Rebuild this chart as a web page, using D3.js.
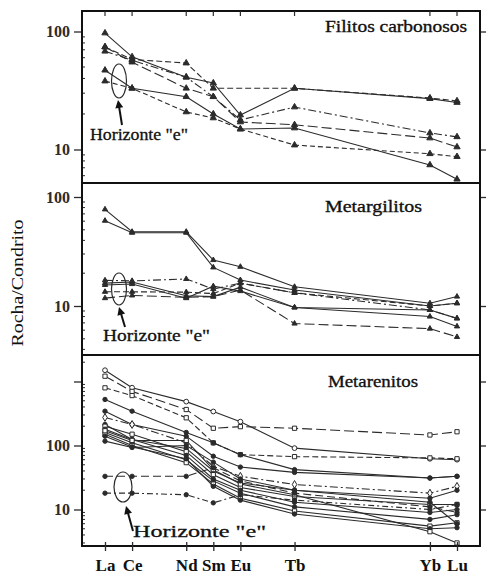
<!DOCTYPE html>
<html><head><meta charset="utf-8">
<script src="https://cdn.jsdelivr.net/npm/d3@7"></script>
<style>html,body{margin:0;padding:0;background:#fff;} svg{display:block;}</style>
</head><body>
<svg id="chart" width="489" height="574"></svg>
<script>
// ---------- DATA ----------
const elements = ["La","Ce","Nd","Sm","Eu","Tb","Yb","Lu"];
const elementSlots = [0,1,3,4,5,7,12,13];
const yTitle = "Rocha/Condrito";
const panelTitles = ["Filitos carbonosos","Metargilitos","Metarenitos"];
const horizonLabel = "Horizonte \"e\"";
const tickValuesP1 = [10,100];
const tickValuesP2 = [10,100];
const tickValuesP3 = [10,100,1000];
const tickLabels = {10:"10",100:"100"};

// Filitos carbonosos (La..Lu), null = not analysed
const filitos = [
  [97, 61, 41, 36.6, 19.6, 33, 27, 25],
  [74, 58, 54, 33, null, 33, 27.3, 25.8],
  [68, 57, 41, 28, 17.8, 22.9, 13.8, 12.8],
  [74, 55, 33, 28, 17.1, 16.2, 12.5, 10.5],
  [47, 33, 28, 20, 14.9, 15.2, 7.4, 5.6],
  [38, 33, 20.8, 18.5, 14.9, 10.9, 9.2, 8.7]
];
// Metargilitos
const metargilitos = [
  [77, 48, 48, 26.4, 22.9, 15, 10.6, 12.2],
  [60.6, 47, 47, 22.6, 17.3, 14, 10, 10.6],
  [17.2, 17, 17.7, 14.3, 16.2, 13.2, 9.2, 7.7],
  [16.2, 16.6, 12.4, 12.2, 14.9, 9.7, 8, 6.5],
  [15.6, 15.9, 11.8, 15.2, 13.7, 9.7, 9.2, 7.7],
  [13.5, 13.5, 13.4, 13, 16.2, 13.2, 10, 10.6],
  [11.8, 12.5, 12, 12.2, 14, 6.9, 6.2, 5.2]
];
// Metarenitos
const metarenitos = [
  [1500, 800, 485, 340, 236, 91, 62, 60],
  [1210, 700, 365, 186, 197, 186, 146, 164],
  [796, 603, 271, 110, 72, 67, 64, 62],
  [524, 344, 160, 110, 72, 42, 31, 33],
  [344, 213, 140, 68, 46, 38, 31, 33],
  [274, 213, 110, 47, 33, 24.6, 18, 23],
  [213, 124, 90, 40, 26, 20, 15, 20],
  [200, 150, 80, 35, 22, 16, 12, 12],
  [180, 124, 70, 30, 20, 13, 9, 10],
  [160, 110, 60, 28, 18, 11, 7, 8.3],
  [150, 100, 54, 25, 15, 9.5, 5.5, 6.2],
  [140, 95, 62, 23, 14, 8.5, 5, 5.2],
  [117, 93, 100, 55, 30, 20, 13, 6],
  [170, 120, 120, 42, 25, 17, 4.5, 3.0],
  [33, 33, 33, 45, 28, 18, 11, 9],
  [18, 18, 17, 12.7, 17, 14, 10, 12]
];

// ---------- STYLES ----------
const filitosDash = ["", "6,3", "8,3,2,3", "10,4", "", "5,3"];
const metargDash = ["", "", "8,3,2,3", "", "", "6,3", "10,4"];
const metarenDash = ["", "10,4", "6,3", "", "", "8,3,2,3", "", "", "", "", "", "", "", "", "8,4", "6,3,2,3"];
const metarenMarker = ["circleOpen","square","square","circle","circle","diamond","circle","square","circle","circle","square","circle","circle","square","circle","circle"];

const ink = "#2b2b2b";
const serif = "'Liberation Serif','DejaVu Serif',serif";

const svg = d3.select("#chart");
const frameL = 82, frameR = 480;
const x = d3.scaleLinear().domain([0,13]).range([105,457]);

const panels = [
  {data: filitos, dash: filitosDash, marker: () => "triangle", msize: 17,
   top: 11, bottom: 183, y10: 149.5, y100: 31.5, ticks: tickValuesP1,
   title: panelTitles[0], tx: 325, ty: 32, tlen: 142,
   ell: {cx:119, cy:81, rx:7.5, ry:17}, lab: {x:90, y:140, len:98, fs:16},
   arrow: {x1:122, y1:125, x2:118, y2:100}},
  {data: metargilitos, dash: metargDash, marker: () => "triangle", msize: 12,
   top: 183, bottom: 355, y10: 306, y100: 197, ticks: tickValuesP2,
   title: panelTitles[1], tx: 325, ty: 212, tlen: 97,
   ell: {cx:119, cy:289, rx:7.5, ry:16}, lab: {x:103, y:341, len:107, fs:16},
   arrow: {x1:125, y1:327, x2:119, y2:307}},
  {data: metarenitos, dash: metarenDash, marker: i => metarenMarker[i], msize: 15,
   top: 355, bottom: 546, y10: 509.5, y100: 445.5, ticks: tickValuesP3,
   title: panelTitles[2], tx: 328, ty: 387, tlen: 90,
   ell: {cx:123, cy:487, rx:9, ry:15}, lab: {x:133, y:537, len:133, fs:17},
   arrow: {x1:133, y1:531, x2:126, y2:506}}
];

const symbolFor = {
  triangle: d3.symbolTriangle, circle: d3.symbolCircle, circleOpen: d3.symbolCircle,
  square: d3.symbolSquare, diamond: d3.symbolDiamond
};

panels.forEach((p, pi) => {
  const base = d3.scaleLog().domain([10,100]).range([p.y10, p.y100]);
  const y = d3.scaleLog().domain([base.invert(p.bottom), base.invert(p.top)]).range([p.bottom, p.top]);
  const g = svg.append("g");

  // minor ticks
  const [d0, d1] = y.domain();
  const minors = [];
  for (let dec = 1; dec <= 1000; dec *= 10)
    for (let k = 2; k <= 9; k++) { const v = k*dec; if (v > d0 && v < d1) minors.push(v); }
  g.selectAll(".minor").data(minors).join("line")
    .attr("x1", frameL).attr("x2", frameL+3)
    .attr("y1", d => y(d)).attr("y2", d => y(d))
    .attr("stroke", ink).attr("stroke-width", 1);

  // left axis
  const left = d3.axisLeft(y).tickValues(p.ticks).tickSize(8).tickPadding(4)
    .tickFormat(d => tickLabels[d] || "");
  const la = g.append("g").attr("transform", `translate(${frameL},0)`).call(left);
  la.select(".domain").remove();
  la.selectAll("line").attr("stroke", ink).attr("stroke-width", 1.3);
  la.selectAll("text").attr("font-family", serif).attr("font-size", 16).attr("font-weight", "bold").attr("fill", ink);

  // right axis ticks
  const right = d3.axisRight(y).tickValues(p.ticks).tickSize(6).tickFormat("");
  const ra = g.append("g").attr("transform", `translate(${frameR},0)`).call(right);
  ra.select(".domain").remove();
  ra.selectAll("line").attr("stroke", ink).attr("stroke-width", 1.3);

  // series
  const line = d3.line().x(d => x(d.p)).y(d => y(d.v));
  p.data.forEach((vals, si) => {
    const pts = vals.map((v, j) => ({p: elementSlots[j], v})).filter(d => d.v != null);
    g.append("path").attr("d", line(pts)).attr("fill", "none")
      .attr("stroke", ink).attr("stroke-width", 1.1)
      .attr("stroke-dasharray", p.dash[si] || null);
    const mk = p.marker(si);
    const open = mk === "circleOpen" || mk === "square" || mk === "diamond";
    g.selectAll(null).data(pts).join("path")
      .attr("transform", d => `translate(${x(d.p)},${y(d.v)})`)
      .attr("d", d3.symbol().type(symbolFor[mk]).size(open ? p.msize*1.2 : p.msize))
      .attr("fill", open ? "#fff" : ink).attr("stroke", ink).attr("stroke-width", 1);
  });

  // frame
  g.append("rect").attr("x", frameL).attr("y", p.top).attr("width", frameR-frameL)
    .attr("height", p.bottom-p.top).attr("fill", "none").attr("stroke", "#111").attr("stroke-width", 2);

  // title
  g.append("text").attr("x", p.tx).attr("y", p.ty).text(p.title)
    .attr("font-family", serif).attr("font-size", 17).attr("fill", "#111")
    .attr("stroke", "#111").attr("stroke-width", 0.35)
    .attr("textLength", p.tlen).attr("lengthAdjust", "spacingAndGlyphs");

  // horizon ellipse, arrow, label
  g.append("ellipse").attr("cx", p.ell.cx).attr("cy", p.ell.cy).attr("rx", p.ell.rx).attr("ry", p.ell.ry)
    .attr("fill", "none").attr("stroke", ink).attr("stroke-width", 1.2);
  const a = p.arrow;
  const ang = Math.atan2(a.y2-a.y1, a.x2-a.x1);
  g.append("line").attr("x1", a.x1).attr("y1", a.y1)
    .attr("x2", a.x2 - 5*Math.cos(ang)).attr("y2", a.y2 - 5*Math.sin(ang))
    .attr("stroke", "#111").attr("stroke-width", 2);
  const hl = 8, hw = 4;
  const bx = a.x2 - hl*Math.cos(ang), by = a.y2 - hl*Math.sin(ang);
  g.append("path").attr("d",
    `M${a.x2},${a.y2}L${bx + hw*Math.sin(ang)},${by - hw*Math.cos(ang)}L${bx - hw*Math.sin(ang)},${by + hw*Math.cos(ang)}Z`)
    .attr("fill", "#111");
  g.append("text").attr("x", p.lab.x).attr("y", p.lab.y).text(horizonLabel)
    .attr("font-family", serif).attr("font-size", p.lab.fs).attr("fill", "#111")
    .attr("stroke", "#111").attr("stroke-width", 0.3)
    .attr("textLength", p.lab.len).attr("lengthAdjust", "spacingAndGlyphs");

  // top ticks on first panel
  if (pi === 0) {
    g.selectAll(".tt").data(elementSlots).join("line")
      .attr("x1", d => x(d)).attr("x2", d => x(d))
      .attr("y1", p.top).attr("y2", p.top+5).attr("stroke", ink).attr("stroke-width", 1.2);
  }
  // bottom axis on last panel
  if (pi === panels.length-1) {
    const bottomAxis = d3.axisBottom(x).tickValues(elementSlots).tickSize(5).tickPadding(8)
      .tickFormat((d, i) => elements[i]);
    const ba = g.append("g").attr("transform", `translate(0,${p.bottom})`).call(bottomAxis);
    ba.select(".domain").remove();
    ba.selectAll("line").attr("y1", -4).attr("stroke", ink).attr("stroke-width", 1.3);
    ba.selectAll("text").attr("font-family", serif).attr("font-size", 17).attr("font-weight", "bold").attr("fill", "#111");
  }
});

// y title
svg.append("text").attr("transform", "translate(23,283) rotate(-90)")
  .attr("text-anchor", "middle").text(yTitle)
  .attr("font-family", serif).attr("font-size", 17).attr("fill", "#111")
  .attr("textLength", 127).attr("lengthAdjust", "spacingAndGlyphs");
</script>
</body></html>
